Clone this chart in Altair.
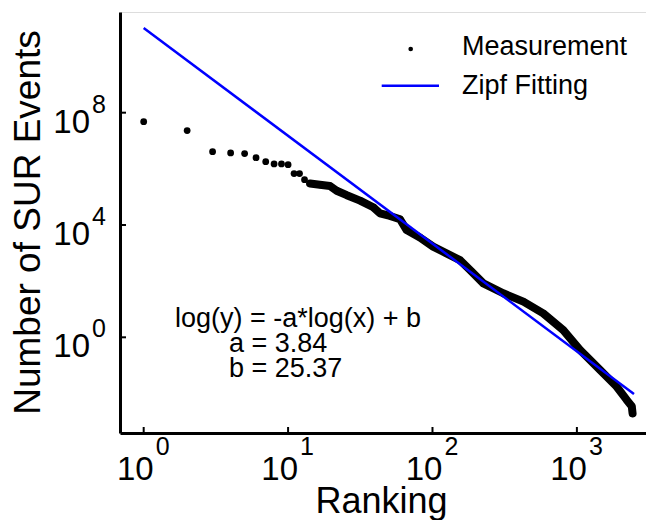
import altair as alt
import pandas as pd

# ---- data ----
rank_sparse = [1, 2, 3, 4, 5, 6, 7, 8, 9, 10, 11, 12, 13]
events_sparse = [4.8e7, 2.3e7, 4.1e6, 3.7e6, 3.5e6, 2.5e6, 1.8e6, 1.5e6, 1.5e6,
                 1.4e6, 6.8e5, 6.8e5, 4.1e5]

rank_dense = [14.2, 16.6, 19.5, 21.7, 25.5, 31.5, 38.9, 43.3, 50.8, 59.6, 66.2,
              81.8, 101, 125, 155, 186, 225, 309, 426, 585, 805, 1050, 1445,
              1888, 2213, 2399, 2430]
events_dense = [3.0e5, 2.7e5, 2.45e5, 1.66e5, 1.15e5, 7.4e4, 4.3e4, 2.6e4, 2.1e4,
                1.6e4, 6.6e3, 3.6e3, 1.7e3, 980, 560, 224, 83, 37, 18.6, 7.1,
                1.8, 0.355, 0.069, 0.0174, 0.0059, 0.0035, 0.00195]

fit_rank = [1, 2485]
fit_events = [1.04e11, 9.5e-3]

x_ticks = [1, 10, 100, 1000]
x_exps = ["0", "1", "2", "3"]
y_ticks = [1, 1e4, 1e8]
y_exps = ["0", "4", "8"]

legend_labels = ["Measurement", "Zipf Fitting"]
note_lines = ["log(y) = -a*log(x) + b", "a = 3.84", "b = 25.37"]

# ---- layout ----
W, H = 526, 421
FONT = "Liberation Sans"

xs = alt.Scale(type="log", domain=[0.6855, 3010], nice=False)
ys = alt.Scale(type="log", domain=[3.91e-4, 3.85e11], nice=False)

sparse = pd.DataFrame({"rank": rank_sparse, "events": events_sparse})
dense = pd.DataFrame({"rank": rank_dense, "events": events_dense})
fit = pd.DataFrame({"rank": fit_rank, "events": fit_events})
xt = pd.DataFrame({"v": x_ticks, "e": x_exps})
yt = pd.DataFrame({"v": y_ticks, "e": y_exps})

X = lambda: alt.X("rank:Q", scale=xs,
                  axis=alt.Axis(labels=False, ticks=False, grid=False, domainWidth=3,
                                domainColor="black", title="Ranking",
                                titleFont=FONT, titleFontSize=36, titleFontWeight="normal",
                                titleColor="black", titleBaseline="alphabetic",
                                titleY=79, titleX=W / 2 - 2))
Y = lambda: alt.Y("events:Q", scale=ys,
                  axis=alt.Axis(labels=False, ticks=False, grid=False, domainWidth=3,
                                domainColor="black", title="Number of SUR Events",
                                titleFont=FONT, titleFontSize=37, titleFontWeight="normal",
                                titleColor="black", titleBaseline="alphabetic",
                                titleAngle=-90, titleX=-81, titleY=210))

band = alt.Chart(dense).mark_line(color="black", strokeWidth=8, strokeCap="round",
                                  strokeJoin="round").encode(x=X(), y=Y())
dots = alt.Chart(pd.concat([sparse, dense])).mark_circle(color="black", size=46,
                                                         opacity=1).encode(
    x=alt.X("rank:Q", scale=xs), y=alt.Y("events:Q", scale=ys))
fitline = alt.Chart(fit).mark_line(color="#0000ff", strokeWidth=2.5).encode(
    x=alt.X("rank:Q", scale=xs), y=alt.Y("events:Q", scale=ys))

# inward ticks
xtick = alt.Chart(xt).mark_rule(color="black", strokeWidth=2).encode(
    x=alt.X("v:Q", scale=xs), y=alt.value(H), y2=alt.value(H - 6))
ytick = alt.Chart(yt).mark_rule(color="black", strokeWidth=2).encode(
    y=alt.Y("v:Q", scale=ys), x=alt.value(0), x2=alt.value(6))

# tick labels 10^n
xlab = alt.Chart(xt).mark_text(font=FONT, fontSize=33, align="right",
                               baseline="alphabetic", dx=10, color="black").encode(
    x=alt.X("v:Q", scale=xs), y=alt.value(H + 47), text=alt.value("10"))
xexp = alt.Chart(xt).mark_text(font=FONT, fontSize=25, align="left",
                               baseline="alphabetic", dx=12, color="black").encode(
    x=alt.X("v:Q", scale=xs), y=alt.value(H + 22), text="e:N")
ylab = alt.Chart(yt).mark_text(font=FONT, fontSize=33, align="right",
                               baseline="alphabetic", dy=20, color="black").encode(
    y=alt.Y("v:Q", scale=ys), x=alt.value(-30), text=alt.value("10"))
yexp = alt.Chart(yt).mark_text(font=FONT, fontSize=25, align="left",
                               baseline="alphabetic", dy=0, color="black").encode(
    y=alt.Y("v:Q", scale=ys), x=alt.value(-28), text="e:N")

# legend
leg_dot = alt.Chart(pd.DataFrame({"k": [0]})).mark_circle(color="black", size=22,
                                                           opacity=1).encode(
    x=alt.value(410.7 - 120), y=alt.value(49 - 12))
leg_line = alt.Chart(pd.DataFrame({"k": [0]})).mark_rule(color="#0000ff",
                                                         strokeWidth=2.5).encode(
    x=alt.value(381.7 - 120), x2=alt.value(439 - 120), y=alt.value(85.7 - 12))
leg_txt = alt.Chart(pd.DataFrame({"t": legend_labels,
                                  "yy": [55 - 12, 94 - 12]})).mark_text(
    font=FONT, fontSize=27, align="left", baseline="alphabetic", color="black").encode(
    x=alt.value(462 - 120), y=alt.Y("yy:Q", scale=None), text="t:N")

# annotation
ann = alt.Chart(pd.DataFrame({"t": note_lines,
                              "xx": [175 - 120, 229 - 120, 229 - 120],
                              "yy": [327 - 12, 352 - 12, 377 - 12]})).mark_text(
    font=FONT, fontSize=27, align="left", baseline="alphabetic", color="black").encode(
    x=alt.X("xx:Q", scale=None), y=alt.Y("yy:Q", scale=None), text="t:N")

chart = alt.layer(band, dots, fitline, xtick, ytick, xlab, xexp, ylab, yexp,
                  leg_dot, leg_line, leg_txt, ann).properties(
    width=W, height=H,
    padding={"left": 112, "top": 4, "right": 0, "bottom": 87},
    autosize="none",
).configure_view(stroke=None).configure(background="white")

chart.save("out.html", embed_options={"renderer": "svg", "actions": False})
